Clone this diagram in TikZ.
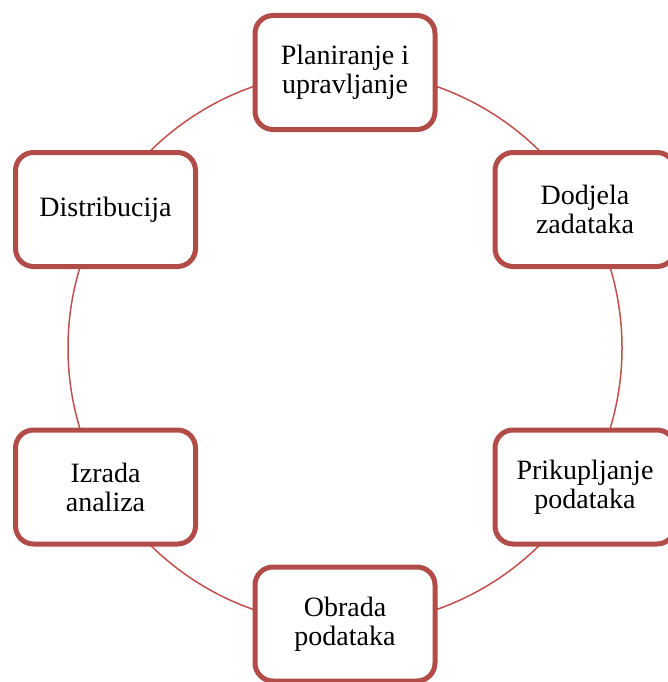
\documentclass[tikz,border=0pt]{standalone}
\usepackage{fontspec}
\setmainfont{Liberation Serif}
\definecolor{ringred}{RGB}{192,80,77}
\definecolor{boxred}{RGB}{178,76,73}
\tikzset{
  stepbox/.style={draw=boxred, line width=5pt, fill=white, rounded corners=18pt,
    minimum width=180pt, minimum height=114pt, align=center, inner sep=0pt,
    font=\fontsize{28}{29}\selectfont, text=black},
  ring/.style={draw=ringred, line width=1.5pt}
}
\begin{document}
\begin{tikzpicture}[x=1pt,y=-1pt]
\useasboundingbox (0,0) rectangle (667,682);
\fill[white] (0,0) rectangle (667,682);
\coordinate (c) at (345,348);
\draw[ring] (c) circle[radius=277pt];
\node[stepbox] (plan) at (345,72.5) {Planiranje i\\upravljanje};
\node[stepbox] (dodj) at (585,209.5) {Dodjela\\zadataka};
\node[stepbox] (prik) at (585,487) {Prikupljanje\\podataka};
\node[stepbox] (obra) at (345,624) {Obrada\\podataka};
\node[stepbox] (izra) at (105.5,487) {Izrada\\analiza};
\node[stepbox] (dist) at (105.5,209.5) {Distribucija};
\end{tikzpicture}
\end{document}
